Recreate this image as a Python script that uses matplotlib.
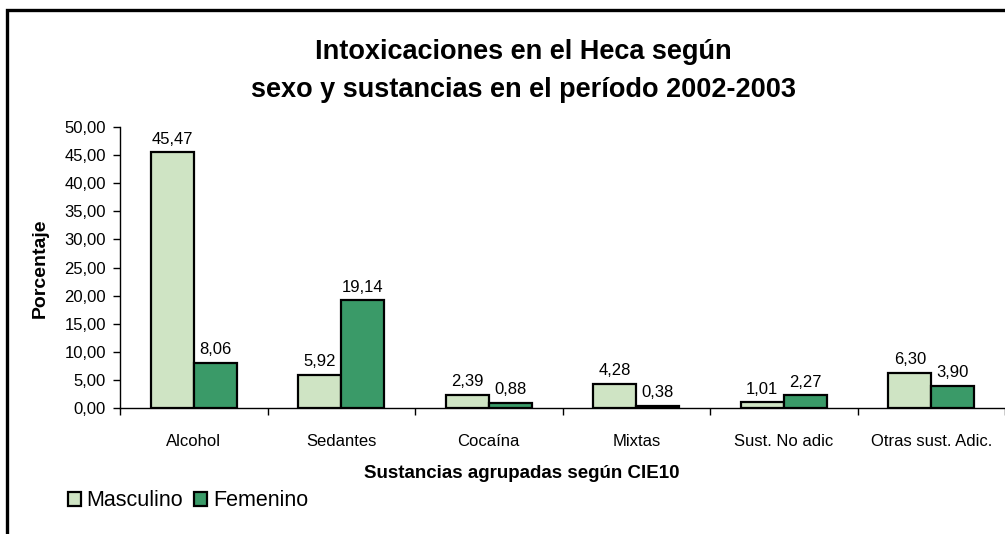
import matplotlib
matplotlib.use("Agg")
import matplotlib.pyplot as plt
from matplotlib.patches import Rectangle
from matplotlib.ticker import FixedLocator, NullFormatter
import numpy as np

plt.rcParams['font.family'] = ['Liberation Sans', 'DejaVu Sans']

categories = ["Alcohol", "Sedantes", "Cocaína", "Mixtas", "Sust. No adic", "Otras sust. Adic."]
masculino = [45.47, 5.92, 2.39, 4.28, 1.01, 6.30]
femenino = [8.06, 19.14, 0.88, 0.38, 2.27, 3.90]
series_names = ["Masculino", "Femenino"]
yticks = [0, 5, 10, 15, 20, 25, 30, 35, 40, 45, 50]

W, H = 1005, 534
fig = plt.figure(figsize=(W / 100, H / 100), dpi=100)
ax = fig.add_axes([120 / W, 1 - 408 / H, 885 / W, (408 - 127) / H])

x = np.arange(len(categories))
bw = 0.29
c_m = "#cfe4c4"
c_f = "#3a9a68"
b1 = ax.bar(x - bw / 2, masculino, bw, color=c_m, edgecolor="black", linewidth=1.6, label=series_names[0])
b2 = ax.bar(x + bw / 2, femenino, bw, color=c_f, edgecolor="black", linewidth=1.6, label=series_names[1])

def fmt(v):
    return f"{v:.2f}".replace(".", ",")

for bars, vals in ((b1, masculino), (b2, femenino)):
    for r, v in zip(bars, vals):
        ax.text(r.get_x() + r.get_width() / 2, v + 1.0, fmt(v), ha="center", va="bottom", fontsize=12)

ax.set_xlim(-0.5, len(categories) - 0.5)
ax.set_ylim(0, 50)
ax.set_yticks(yticks)
ax.set_yticklabels([fmt(v) for v in yticks], fontsize=12)
ax.set_xticks(x)
ax.set_xticklabels(categories, fontsize=12)
ax.tick_params(axis="x", which="major", length=0, pad=19)
ax.xaxis.set_minor_locator(FixedLocator(np.arange(-0.5, len(categories), 1.0)))
ax.xaxis.set_minor_formatter(NullFormatter())
ax.tick_params(axis="x", which="minor", length=5, width=1, direction="out")
ax.tick_params(axis="y", length=5, width=1, direction="out", pad=5)
for s in ("top", "right"):
    ax.spines[s].set_visible(False)
for s in ("left", "bottom"):
    ax.spines[s].set_linewidth(1.0)

fig.text(40 / W, 1 - 268 / H, "Porcentaje", ha="center", va="center", rotation=90,
         fontsize=14, fontweight="bold")
fig.text(522 / W, 1 - 473 / H, "Sustancias agrupadas según CIE10", ha="center", va="center",
         fontsize=13.5, fontweight="bold")
fig.text(523 / W, 1 - 52 / H, "Intoxicaciones en el Heca según",
         ha="center", va="center", fontsize=19.5, fontweight="bold")
fig.text(523 / W, 1 - 90 / H, "sexo y sustancias en el período 2002-2003",
         ha="center", va="center", fontsize=19.5, fontweight="bold")

leg = fig.legend(handles=[b1, b2], labels=series_names, loc="center left",
                 bbox_to_anchor=(68 / W, 1 - 501 / H), ncol=2, frameon=False,
                 fontsize=15.5, handlelength=0.62, handleheight=0.62, handletextpad=0.25,
                 columnspacing=0.5, borderaxespad=0, borderpad=0)

fig.patches.append(Rectangle((7 / W, -0.1), 1.2, 1 - 10 / H + 0.1, transform=fig.transFigure,
                             fill=False, edgecolor="black", linewidth=2.4))

fig.savefig("out.png", dpi=100)
